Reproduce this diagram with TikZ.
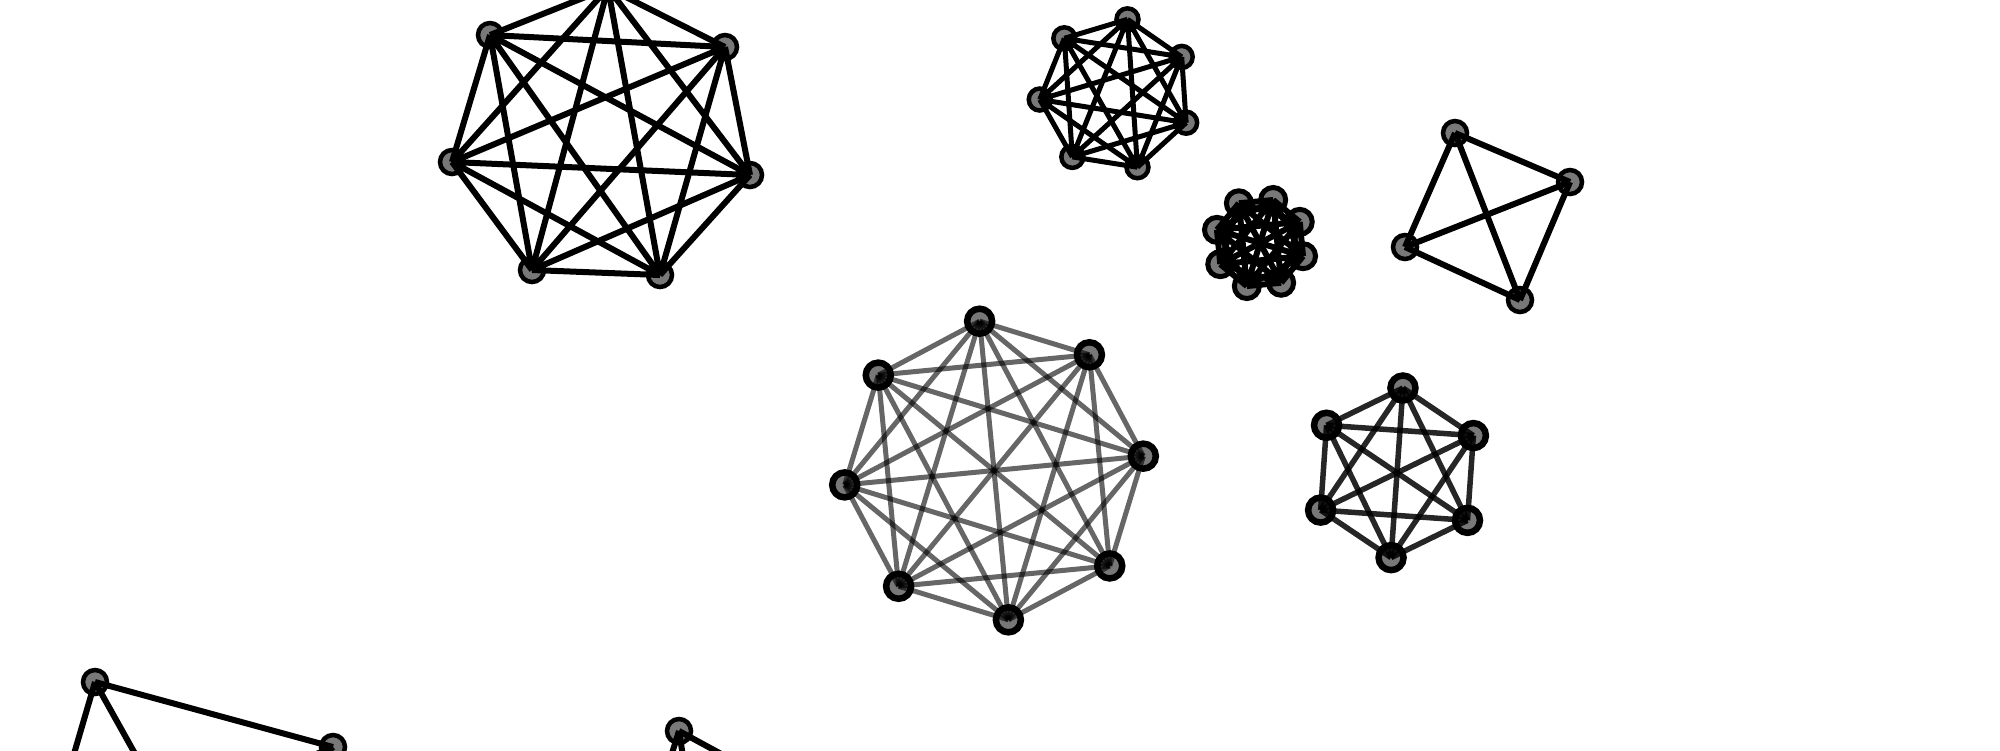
\documentclass[tikz,border=0pt]{standalone}
\definecolor{nodegray}{RGB}{120,120,120}
\tikzset{
  vtx/.style={circle, draw=black, fill=nodegray, line width=0.045cm, inner sep=0pt, minimum size=0.24cm},
  vtxs/.style={vtx, minimum size=0.22cm},
  vtxf/.style={vtx, line width=0.05cm, minimum size=0.25cm},
  vtxb/.style={vtx, line width=0.065cm, minimum size=0.25cm},
  edgeA/.style={line width=0.06cm, black},
  edgeB/.style={line width=0.05cm, black},
  edgeC/.style={line width=0.05cm, black, draw opacity=0.6},
  edgeD/.style={line width=0.055cm, black, draw opacity=0.85},
}
\begin{document}
\begin{tikzpicture}[x=0.01cm,y=-0.01cm]
\useasboundingbox (0,0) rectangle (2000,750);
\clip (0,0) rectangle (2000,750);

% ---- graph 1: large K7 ----
\foreach \n/\x/\y in {1/608/-12, 2/725/47, 3/750/175, 4/660/275, 5/532/270, 6/452/162, 7/490/35}
  \node[vtx] (a\n) at (\x,\y) {};
\foreach \i in {1,...,7}{\foreach \j in {1,...,7}{\ifnum\i<\j \draw[edgeA] (a\i.center) -- (a\j.center);\fi}}

% ---- graph 2: small K7 ----
\foreach \n in {1,...,7}
  \node[vtxs] (b\n) at ({1115.6+76*cos(81+51.4286*(\n-1))},{94.4-76*sin(81+51.4286*(\n-1))}) {};
\foreach \i in {1,...,7}{\foreach \j in {1,...,7}{\ifnum\i<\j \draw[edgeB] (b\i.center) -- (b\j.center);\fi}}

% ---- graph 3: tiny K8 ----
\foreach \n in {1,...,8}
  \node[vtxf] (c\n) at ({1260+45*cos(118+45*(\n-1))},{243-45*sin(118+45*(\n-1))}) {};
\foreach \i in {1,...,8}{\foreach \j in {1,...,8}{\ifnum\i<\j \draw[edgeA] (c\i.center) -- (c\j.center);\fi}}

% ---- graph 4: K4 ----
\foreach \n/\x/\y in {1/1455/133, 2/1570/182, 3/1520/300, 4/1405/247}
  \node[vtx] (d\n) at (\x,\y) {};
\foreach \i in {1,...,4}{\foreach \j in {1,...,4}{\ifnum\i<\j \draw[edgeA] (d\i.center) -- (d\j.center);\fi}}

% ---- graph 5: K8 translucent ----
\foreach \n in {1,...,8}
  \node[vtxb] (e\n) at ({994+150*cos(95.5+45*(\n-1))},{470.5-150*sin(95.5+45*(\n-1))}) {};
\foreach \i in {1,...,8}{\foreach \j in {1,...,8}{\ifnum\i<\j \draw[edgeC] (e\i.center) -- (e\j.center);\fi}}

% ---- graph 6: K6 ----
\foreach \n in {1,...,6}
  \node[vtxb] (f\n) at ({1397+85*cos(86+60*(\n-1))},{472.8-85*sin(86+60*(\n-1))}) {};
\foreach \i in {1,...,6}{\foreach \j in {1,...,6}{\ifnum\i<\j \draw[edgeD] (f\i.center) -- (f\j.center);\fi}}

% ---- graph 7: bottom left (partly outside) ----
\node[vtx] (g1) at (95,682) {};
\node[vtx] (g2) at (333,747) {};
\coordinate (g3) at (40,870);
\coordinate (g4) at (200,870);
\draw[edgeA] (g1.center) -- (g2.center);
\draw[edgeA] (g1.center) -- (g3);
\draw[edgeA] (g1.center) -- (g4);
\draw[edgeA] (g2.center) -- (g3);
\draw[edgeA] (g2.center) -- (g4);

% ---- graph 8: bottom middle (partly outside) ----
\node[vtx] (h1) at (679,731) {};
\coordinate (h2) at (649,826);
\coordinate (h3) at (694,826);
\coordinate (h4) at (819,807);
\draw[edgeA] (h1.center) -- (h2);
\draw[edgeA] (h1.center) -- (h3);
\draw[edgeA] (h1.center) -- (h4);
\end{tikzpicture}
\end{document}
